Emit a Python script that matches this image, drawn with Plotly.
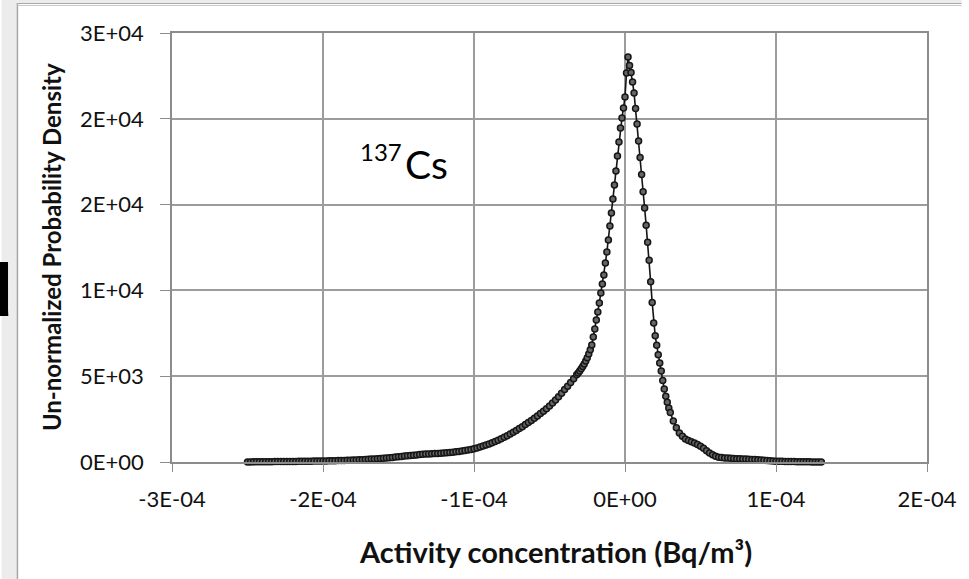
import plotly.graph_objects as go

# ---------------- data (x in 1e-6 Bq/m3) ----------------
x_um = [
    -250, -248, -246, -244, -242, -240, -238, -236, -234, -232, -230, -228, -226, -224, -222, -220,
    -218, -216, -214, -212, -210, -208, -206, -204, -202, -200, -198, -196, -194, -192, -190, -188,
    -186, -184, -182, -180, -178, -176, -174, -172, -170, -168, -166, -164, -162, -160, -158, -156,
    -154, -152, -150, -148, -146, -144, -142, -140, -138, -136, -134, -132, -130, -128, -126, -124,
    -122, -120, -118, -116, -114, -112, -110, -108, -106, -104, -102, -100, -98, -96, -94, -92,
    -90, -88, -86, -84, -82, -80, -78, -76, -74, -72, -70, -68, -66, -64, -62, -60,
    -58, -56, -54, -52, -50, -48, -46, -44, -42, -40, -38, -36, -34, -32,
    -31, -30, -29, -28, -27, -26, -25, -24, -23, -22, -21, -20, -19, -18, -17, -16,
    -15, -14, -13, -12, -11, -10, -9, -8, -7, -6, -5, -4, -3, -2, -1, 0, 1, 2,
    3, 4, 5, 6, 7, 8, 9, 10, 11, 12, 13, 14, 15, 16, 17, 18, 19, 20,
    21, 22, 23, 24, 25, 26, 27, 28, 29, 30,
    32, 34, 36, 38, 40, 42, 44, 46, 48, 50, 52, 54, 56, 58, 60, 62, 64, 66, 68, 70,
    72, 74, 76, 78, 80, 82, 84, 86, 88, 90, 92, 94, 96, 98, 100, 102, 104, 106, 108, 110,
    112, 114, 116, 118, 120, 122, 124, 126, 128, 130,
]
density = [
    4, 6, 8, 10, 12, 14, 16, 18, 20, 22, 24, 26, 28, 30, 32, 34,
    36, 38, 40, 42, 45, 48, 51, 54, 57, 60, 64, 68, 72, 76, 81, 86,
    92, 98, 105, 112, 120, 128, 137, 147, 157, 168, 180, 192, 205, 218, 232, 248,
    265, 285, 305, 325, 345, 365, 385, 400, 415, 430, 445, 460, 470, 480, 490, 500,
    510, 525, 540, 555, 575, 595, 615, 640, 670, 700, 730, 770, 820, 870, 930, 990,
    1050, 1120, 1190, 1270, 1350, 1440, 1530, 1630, 1730, 1840, 1950, 2060, 2180, 2300, 2420, 2550,
    2680, 2820, 2960, 3110, 3270, 3440, 3610, 3800, 4000, 4220, 4420, 4630, 4850, 5080,
    5190, 5310, 5430, 5560, 5710, 5880, 6070, 6290, 6540, 6820, 7290, 7750, 8280, 8740, 9270, 9850,
    10370, 10900, 11600, 12240, 12940, 13750, 14510, 15330, 16140, 16960, 17830, 18650, 19470, 20050, 20630, 21270, 22670, 23600,
    23100, 22700, 22150, 21500, 20600, 19700, 18700, 17750, 16750, 15750, 14800, 13800, 12800, 11750, 10500, 9300, 8100, 7350,
    6800, 6250, 5770, 5300, 4750, 4250, 3830, 3480, 3150, 2880,
    2390, 2000, 1690, 1500, 1340, 1250, 1180, 1110, 1020, 920, 800, 660, 520, 420, 330, 280, 255, 240, 230, 215,
    205, 195, 185, 178, 170, 160, 150, 140, 128, 115, 100, 90, 75, 62, 50, 45, 40, 36, 32, 28,
    24, 20, 17, 14, 11, 8, 6, 4, 2, 0,
]
x_tickvals = [-3e-4, -2e-4, -1e-4, 0, 1e-4, 2e-4]
x_ticktext = ["-3E-04", "-2E-04", "-1E-04", "0E+00", "1E-04", "2E-04"]
y_tickvals = [0, 5000, 10000, 15000, 20000, 25000]
y_ticktext = ["0E+00", "5E+03", "1E+04", "2E+04", "2E+04", "3E+04"]

x_vals = [v * 1e-6 for v in x_um]

# ---------------- layout geometry ----------------
W, H = 969, 579
L, R, T, B = 172, 35, 33, 117
PW, PH = W - L - R, H - T - B


def px(x):
    return (x - L) / PW


def py(y):
    return (H - B - y) / PH


FONT = "Lato, 'Open Sans', sans-serif"
GRID = "#9c9c9c"

fig = go.Figure()
fig.add_trace(go.Scatter(
    x=x_vals, y=density, mode="lines+markers",
    line=dict(color="#151515", width=1.6),
    marker=dict(symbol="circle", size=6, color="#666666",
                line=dict(color="#161616", width=1.5)),
    cliponaxis=False, showlegend=False,
))

shapes = [
    dict(type="rect", xref="paper", yref="paper", x0=px(0), x1=px(16), y0=py(H), y1=py(0),
         fillcolor="#ececec", line=dict(width=0), layer="below"),
    dict(type="rect", xref="paper", yref="paper", x0=px(16), x1=px(W), y0=py(3), y1=py(0),
         fillcolor="#ececec", line=dict(width=0), layer="below"),
    dict(type="line", xref="paper", yref="paper", x0=px(16), x1=px(16), y0=py(H), y1=py(3),
         line=dict(color="#a8a8a8", width=1.5)),
    dict(type="line", xref="paper", yref="paper", x0=px(16), x1=px(W), y0=py(3.5), y1=py(3.5),
         line=dict(color="#a8a8a8", width=1.2)),
    dict(type="line", xref="paper", yref="paper", x0=px(16), x1=px(W), y0=py(5.5), y1=py(5.5),
         line=dict(color="#c8c8c8", width=1)),
]

annotations = [
    dict(text="Un-normalized Probability Density", xref="paper", yref="paper",
         x=px(50), y=py(247), textangle=-90, showarrow=False,
         xanchor="center", yanchor="middle",
         font=dict(family=FONT, size=24, color="#111111", weight="bold")),
    dict(text="Activity concentration (Bq/m³)", xref="paper", yref="paper",
         x=px(559), y=py(551), showarrow=False, xanchor="center", yanchor="middle",
         font=dict(family=FONT, size=29, color="#111111", weight="bold")),
    dict(text="137", xref="paper", yref="paper", x=px(360), y=py(151), showarrow=False,
         xanchor="left", yanchor="middle",
         font=dict(family=FONT, size=24, color="#000000")),
    dict(text="Cs", xref="paper", yref="paper", x=px(405), y=py(164), showarrow=False,
         xanchor="left", yanchor="middle",
         font=dict(family=FONT, size=39, color="#000000")),
    dict(text="<b>d</b>", xref="paper", yref="paper", x=px(14), y=py(290), showarrow=False,
         xanchor="right", yanchor="middle",
         font=dict(family="Liberation Sans, Arial, sans-serif", size=74, color="#000000")),
]

fig.update_layout(
    width=W, height=H,
    margin=dict(l=L, r=R, t=T, b=B, pad=0),
    paper_bgcolor="white", plot_bgcolor="white",
    shapes=shapes, annotations=annotations,
    font=dict(family=FONT, color="#111111"),
)
fig.update_xaxes(
    range=[-3e-4, 2e-4], tickvals=x_tickvals, ticktext=x_ticktext,
    showgrid=True, gridcolor=GRID, gridwidth=1.5, zeroline=False,
    showline=True, linecolor="#8c8c8c", linewidth=1.5, mirror=True,
    ticks="outside", ticklen=8, tickcolor="#8c8c8c", tickwidth=1.2,
    tickfont=dict(family=FONT, size=22, color="#111111"), ticklabelstandoff=9,
)
fig.update_yaxes(
    range=[0, 25000], tickvals=y_tickvals, ticktext=y_ticktext,
    showgrid=True, gridcolor=GRID, gridwidth=1.5, zeroline=False,
    showline=True, linecolor="#8c8c8c", linewidth=1.5, mirror=True,
    ticks="outside", ticklen=10, tickcolor="#8c8c8c", tickwidth=1.2,
    tickfont=dict(family=FONT, size=22, color="#111111"), ticklabelstandoff=12,
)

fig.write_html("out.html")
